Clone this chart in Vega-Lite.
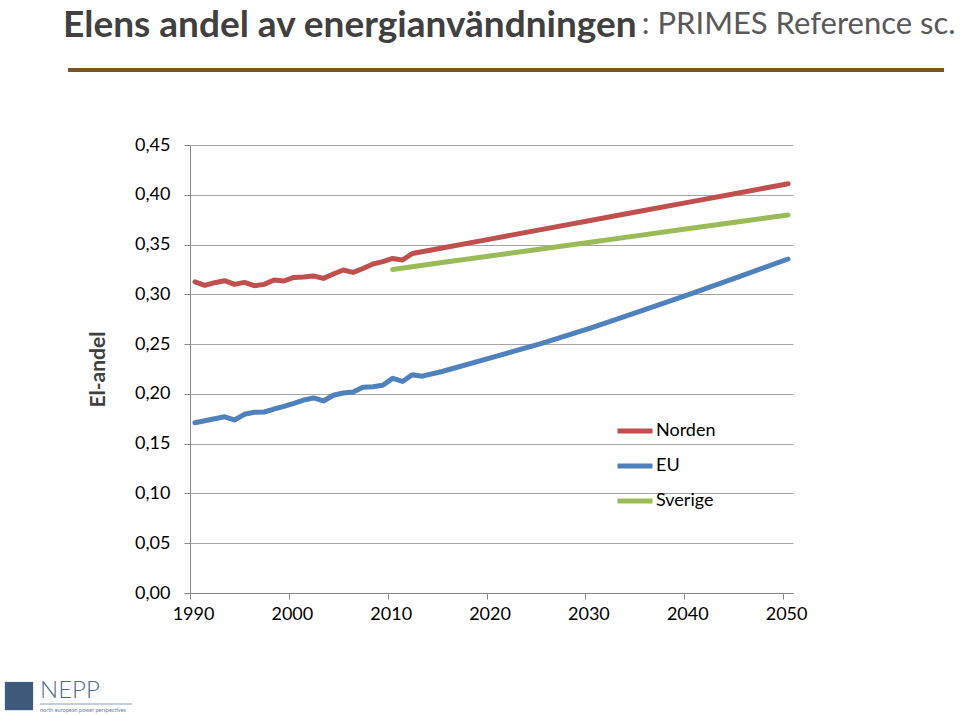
{
  "$schema": "https://vega.github.io/schema/vega-lite/v6.json",
  "width": 603,
  "height": 448,
  "autosize": {"type": "none"},
  "padding": {"left": 190, "top": 145, "right": 167, "bottom": 122},
  "background": "white",
  "title": {
    "text": "Elens andel av energianvändningen",
    "anchor": "start",
    "frame": "group",
    "font": "Lato",
    "fontSize": 37,
    "fontWeight": "bold",
    "color": "#404040",
    "offset": 0,
    "dx": -127,
    "dy": 36
  },
  "config": {
    "view": {"stroke": null},
    "font": "Lato",
    "legend": {
      "orient": "none",
      "legendX": 425,
      "legendY": 266,
      "symbolType": "stroke",
      "symbolSize": 1225,
      "symbolStrokeWidth": 5,
      "labelFontSize": 18,
      "labelColor": "#000000",
      "labelOffset": 1,
      "rowPadding": 5,
      "title": null,
      "padding": 0
    }
  },
  "datasets": {
    "series": [
      {"serie": "Norden", "year": 1990, "value": 0.3126},
      {"serie": "Norden", "year": 1991, "value": 0.309},
      {"serie": "Norden", "year": 1992, "value": 0.3117},
      {"serie": "Norden", "year": 1993, "value": 0.3137},
      {"serie": "Norden", "year": 1994, "value": 0.310},
      {"serie": "Norden", "year": 1995, "value": 0.312},
      {"serie": "Norden", "year": 1996, "value": 0.3087},
      {"serie": "Norden", "year": 1997, "value": 0.310},
      {"serie": "Norden", "year": 1998, "value": 0.3144},
      {"serie": "Norden", "year": 1999, "value": 0.3134},
      {"serie": "Norden", "year": 2000, "value": 0.317},
      {"serie": "Norden", "year": 2001, "value": 0.3174},
      {"serie": "Norden", "year": 2002, "value": 0.3184},
      {"serie": "Norden", "year": 2003, "value": 0.316},
      {"serie": "Norden", "year": 2004, "value": 0.3204},
      {"serie": "Norden", "year": 2005, "value": 0.3244},
      {"serie": "Norden", "year": 2006, "value": 0.322},
      {"serie": "Norden", "year": 2007, "value": 0.326},
      {"serie": "Norden", "year": 2008, "value": 0.3305},
      {"serie": "Norden", "year": 2009, "value": 0.3328},
      {"serie": "Norden", "year": 2010, "value": 0.336},
      {"serie": "Norden", "year": 2011, "value": 0.3345},
      {"serie": "Norden", "year": 2012, "value": 0.341},
      {"serie": "Norden", "year": 2015, "value": 0.3465},
      {"serie": "Norden", "year": 2020, "value": 0.3557},
      {"serie": "Norden", "year": 2025, "value": 0.365},
      {"serie": "Norden", "year": 2030, "value": 0.3742},
      {"serie": "Norden", "year": 2035, "value": 0.3834},
      {"serie": "Norden", "year": 2040, "value": 0.3926},
      {"serie": "Norden", "year": 2045, "value": 0.4018},
      {"serie": "Norden", "year": 2050, "value": 0.411},
      {"serie": "EU", "year": 1990, "value": 0.171},
      {"serie": "EU", "year": 1991, "value": 0.173},
      {"serie": "EU", "year": 1992, "value": 0.175},
      {"serie": "EU", "year": 1993, "value": 0.177},
      {"serie": "EU", "year": 1994, "value": 0.1738},
      {"serie": "EU", "year": 1995, "value": 0.1795},
      {"serie": "EU", "year": 1996, "value": 0.1815},
      {"serie": "EU", "year": 1997, "value": 0.1818},
      {"serie": "EU", "year": 1998, "value": 0.1848},
      {"serie": "EU", "year": 1999, "value": 0.1875},
      {"serie": "EU", "year": 2000, "value": 0.1905},
      {"serie": "EU", "year": 2001, "value": 0.1938},
      {"serie": "EU", "year": 2002, "value": 0.1959},
      {"serie": "EU", "year": 2003, "value": 0.1929},
      {"serie": "EU", "year": 2004, "value": 0.1986},
      {"serie": "EU", "year": 2005, "value": 0.2009},
      {"serie": "EU", "year": 2006, "value": 0.2019},
      {"serie": "EU", "year": 2007, "value": 0.2066},
      {"serie": "EU", "year": 2008, "value": 0.2072},
      {"serie": "EU", "year": 2009, "value": 0.2086},
      {"serie": "EU", "year": 2010, "value": 0.2156},
      {"serie": "EU", "year": 2011, "value": 0.2125},
      {"serie": "EU", "year": 2012, "value": 0.2193},
      {"serie": "EU", "year": 2013, "value": 0.2178},
      {"serie": "EU", "year": 2015, "value": 0.2225},
      {"serie": "EU", "year": 2020, "value": 0.2365},
      {"serie": "EU", "year": 2025, "value": 0.2505},
      {"serie": "EU", "year": 2030, "value": 0.266},
      {"serie": "EU", "year": 2035, "value": 0.2828},
      {"serie": "EU", "year": 2040, "value": 0.300},
      {"serie": "EU", "year": 2045, "value": 0.3175},
      {"serie": "EU", "year": 2050, "value": 0.3355},
      {"serie": "Sverige", "year": 2010, "value": 0.325},
      {"serie": "Sverige", "year": 2015, "value": 0.3319},
      {"serie": "Sverige", "year": 2020, "value": 0.3387},
      {"serie": "Sverige", "year": 2025, "value": 0.3456},
      {"serie": "Sverige", "year": 2030, "value": 0.3524},
      {"serie": "Sverige", "year": 2035, "value": 0.3592},
      {"serie": "Sverige", "year": 2040, "value": 0.3661},
      {"serie": "Sverige", "year": 2045, "value": 0.3729},
      {"serie": "Sverige", "year": 2050, "value": 0.3797}
    ],
    "subtitle": [{"text": ": PRIMES Reference sc."}],
    "logo": [{"name": "NEPP", "tagline": "north european power perspectives"}]
  },
  "layer": [
    {
      "data": {"name": "series"},
      "mark": {"type": "line", "strokeWidth": 5, "strokeCap": "round", "strokeJoin": "round"},
      "encoding": {
        "x": {
          "field": "year",
          "type": "quantitative",
          "scale": {"domain": [1989.5, 2050.5], "nice": false, "zero": false},
          "axis": {
            "values": [1989.5, 1999.5, 2009.5, 2019.5, 2029.5, 2039.5, 2049.5],
            "labelExpr": "format(datum.value + 0.5, 'd')",
            "labelFlush": false,
            "labelOverlap": false,
            "grid": false,
            "title": null,
            "domainColor": "#868686",
            "tickColor": "#868686",
            "tickSize": 6,
            "labelFontSize": 18,
            "labelColor": "#000000",
            "labelPadding": 6,
            "labelOffset": 3,
            "labelFont": "Lato"
          }
        },
        "y": {
          "field": "value",
          "type": "quantitative",
          "scale": {"domain": [0, 0.45], "nice": false},
          "axis": {
            "values": [0, 0.05, 0.1, 0.15, 0.2, 0.25, 0.3, 0.35, 0.4, 0.45],
            "labelExpr": "replace(format(datum.value, '.2f'), '.', ',')",
            "labelFlush": false,
            "grid": true,
            "gridColor": "#A6A6A6",
            "domainColor": "#868686",
            "tickColor": "#868686",
            "tickSize": 6,
            "labelFontSize": 18,
            "labelColor": "#000000",
            "labelPadding": 14,
            "labelFont": "Lato",
            "title": "El-andel",
            "titleFont": "Lato",
            "titleFontSize": 21,
            "titleFontWeight": "bold",
            "titleColor": "#404040",
            "titlePadding": 26
          }
        },
        "color": {
          "field": "serie",
          "type": "nominal",
          "scale": {"domain": ["Norden", "EU", "Sverige"], "range": ["#C0504D", "#4F81BD", "#9BBB59"]},
          "legend": {"title": null}
        }
      }
    },
    {
      "data": {"name": "subtitle"},
      "mark": {"type": "rule", "stroke": "#7B5323", "strokeWidth": 4},
      "encoding": {
        "x": {"datum": 1977.16, "type": "quantitative"},
        "x2": {"datum": 2065.78},
        "y": {"datum": 0.5253, "type": "quantitative"}
      }
    },
    {
      "data": {"name": "subtitle"},
      "mark": {"type": "text", "font": "Lato", "fontSize": 31, "color": "#595959", "align": "left", "baseline": "alphabetic"},
      "encoding": {
        "text": {"field": "text"},
        "x": {"datum": 2035.2, "type": "quantitative"},
        "y": {"datum": 0.5615, "type": "quantitative"}
      }
    },
    {
      "data": {"name": "logo"},
      "mark": {"type": "point", "shape": "square", "filled": true, "color": "#3F5B7C", "size": 800, "opacity": 1},
      "encoding": {
        "x": {"datum": 1972.2, "type": "quantitative"},
        "y": {"datum": -0.1035, "type": "quantitative"}
      }
    },
    {
      "data": {"name": "logo"},
      "mark": {"type": "rule", "stroke": "#8A9BB0", "strokeWidth": 1},
      "encoding": {
        "x": {"datum": 1974.33, "type": "quantitative"},
        "x2": {"datum": 1983.64},
        "y": {"datum": -0.1115, "type": "quantitative"}
      }
    },
    {
      "data": {"name": "logo"},
      "mark": {"type": "text", "font": "Lato", "fontSize": 24, "fontWeight": 300, "color": "#50698A", "align": "left", "baseline": "alphabetic"},
      "encoding": {
        "text": {"field": "name"},
        "x": {"datum": 1974.33, "type": "quantitative"},
        "y": {"datum": -0.1055, "type": "quantitative"}
      }
    },
    {
      "data": {"name": "logo"},
      "mark": {"type": "text", "font": "Lato", "fontSize": 5.5, "color": "#6A7F99", "align": "left", "baseline": "alphabetic"},
      "encoding": {
        "text": {"field": "tagline"},
        "x": {"datum": 1974.33, "type": "quantitative"},
        "y": {"datum": -0.1195, "type": "quantitative"}
      }
    }
  ]
}
